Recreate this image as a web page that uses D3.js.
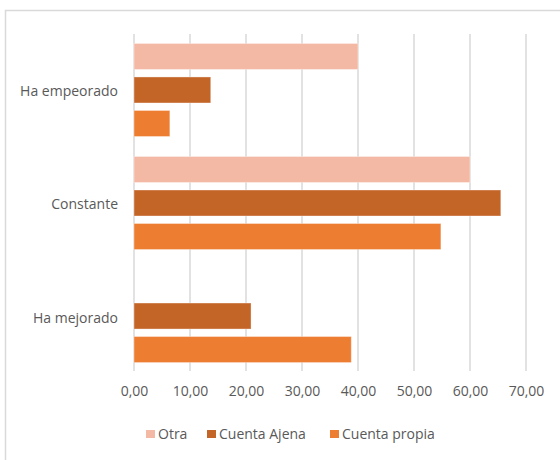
<!DOCTYPE html>
<html><head><meta charset="utf-8">
<script src="https://cdn.jsdelivr.net/npm/d3@7"></script>
<style>
body{margin:0;background:#fff;}
svg{display:block;}
text{font-family:"Open Sans","Noto Sans",sans-serif;fill:#595959;}
</style></head>
<body>
<svg id="chart" width="560" height="460"></svg>
<script>
const categories = ["Ha empeorado", "Constante", "Ha mejorado"];
const seriesNames = ["Otra", "Cuenta Ajena", "Cuenta propia"];
const otra = [40.0, 60.0, 0];
const cuentaAjena = [13.7, 65.5, 20.9];
const cuentaPropia = [6.4, 54.8, 38.8];
const seriesColors = ["#F4B9A5", "#C46528", "#ED7D31"];
const tickValues = [0, 10, 20, 30, 40, 50, 60, 70];

const seriesValues = [otra, cuentaAjena, cuentaPropia];
const svg = d3.select("#chart");
const FONT = '"Open Sans","Noto Sans",sans-serif';

// outer border
svg.append("rect").attr("x",5.5).attr("y",10.5).attr("width",600).attr("height",500)
  .attr("fill","none").attr("stroke","#d9d9d9").attr("stroke-width",1.5);

const x = d3.scaleLinear().domain([0,70]).range([134,526]);
const y0 = d3.scaleBand().domain(categories).range([36,370]).paddingInner(0.177).paddingOuter(0.066);
const y1 = d3.scaleBand().domain(seriesNames).range([0,y0.bandwidth()]).paddingInner(0.224);

// gridlines
svg.append("g").selectAll("line").data(tickValues).join("line")
  .attr("x1",d=>Math.round(x(d))).attr("x2",d=>Math.round(x(d)))
  .attr("y1",34).attr("y2",371)
  .attr("stroke","#d9d9d9").attr("stroke-width",1.5);

// bars
const groups = svg.append("g").selectAll("g").data(categories).join("g")
  .attr("transform",c=>`translate(0,${y0(c)})`);
groups.selectAll("rect").data((c,ci)=>seriesNames.map((s,si)=>({s,si,v:seriesValues[si][ci]})))
  .join("rect")
  .filter(d=>d.v>0)
  .attr("x",x(0)).attr("y",d=>y1(d.s))
  .attr("width",d=>x(d.v)-x(0)).attr("height",y1.bandwidth())
  .attr("fill",d=>seriesColors[d.si])
  .attr("stroke","#fff").attr("stroke-opacity",0.35).attr("stroke-width",1);

// x axis labels
const xAxis = d3.axisBottom(x).tickValues(tickValues).tickSize(0)
  .tickFormat(d=>d3.format(".2f")(d).replace(".",","));
const gx = svg.append("g").attr("transform","translate(0,383)").call(xAxis);
gx.select(".domain").remove();
gx.selectAll("text").attr("font-size",14).attr("fill","#595959").style("font-family",FONT);

// y axis labels
const yAxis = d3.axisLeft(y0).tickSize(0).tickPadding(0);
const gy = svg.append("g").attr("transform","translate(118,2)").call(yAxis);
gy.select(".domain").remove();
gy.selectAll("text").attr("font-size",14).attr("fill","#595959").style("font-family",FONT);

// legend
const legendX = [146, 207, 330];
const lg = svg.append("g").selectAll("g").data(seriesNames).join("g")
  .attr("transform",(d,i)=>`translate(${legendX[i]},430)`);
lg.append("rect").attr("width",9).attr("height",8).attr("fill",(d,i)=>seriesColors[i]);
lg.append("text").attr("x",12).attr("y",4).attr("dy","0.35em").attr("font-size",14).text(d=>d);
</script>
</body></html>
